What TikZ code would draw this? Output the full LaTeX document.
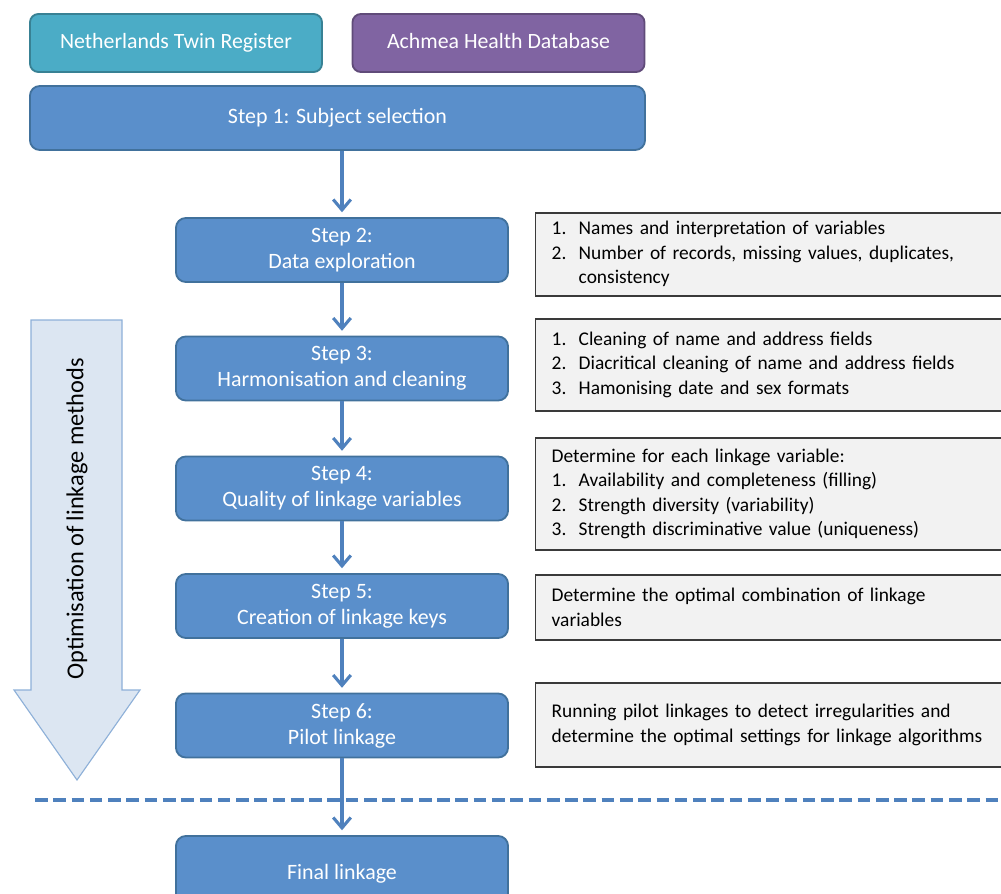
\documentclass[tikz,border=0pt]{standalone}
\usepackage{fontspec}
\setmainfont{Carlito}
\definecolor{NtrTeal}{HTML}{4BACC6}
\definecolor{AhdPurple}{HTML}{8064A2}
\definecolor{StepBlue}{HTML}{5A8FCB}
\definecolor{StepEdge}{HTML}{41719C}
\definecolor{LinkBlue}{HTML}{4F81BD}
\definecolor{NoteGray}{HTML}{F2F2F2}
\definecolor{NoteEdge}{HTML}{3A3A3A}
\definecolor{OptFill}{HTML}{DCE6F2}
\definecolor{OptEdge}{HTML}{8EB0D8}
\usetikzlibrary{arrows.meta, positioning}

\begin{document}
\begin{tikzpicture}[x=0.025cm, y=-0.025cm, >={Straight Barb[length=2.6mm, width=4.4mm]},
    srcbox/.style={draw=#1!75!black, fill=#1, rounded corners=6pt, line width=1.3pt, text=white,
                   minimum width=7.3cm, minimum height=1.45cm, text depth=0.5ex,
                   font=\fontsize{15.5}{18}\selectfont},
    stepbox/.style={draw=StepEdge, fill=StepBlue, rounded corners=7pt, line width=1.3pt, text=white,
                    minimum width=8.3cm, minimum height=1.6cm, align=center,
                    font=\fontsize{15.6}{18.5}\selectfont},
    notebox/.style={draw=NoteEdge, fill=NoteGray, line width=1pt, anchor=west,
                    minimum width=12cm, text width=11.2cm, inner xsep=0.4cm, align=left,
                    font=\fontsize{13.8}{17.4}\selectfont},
    link/.style={->, LinkBlue, line width=2.2pt, shorten >=0.12cm}]
  \useasboundingbox (0,0) rectangle (1001,894);
  \clip (0,0) rectangle (1001,894);

  \draw[OptEdge, fill=OptFill, line width=0.8pt] (31,320) -- (122,320) -- (122,690) -- (140,690)
    -- (77,780) -- (14,690) -- (31,690) -- cycle;
  \node[rotate=90, font=\fontsize{17.3}{20}\selectfont] (opt) at (77,519) {Optimisation of linkage methods};

  \node[srcbox=NtrTeal] (ntr) at (176,43) {Netherlands Twin Register};
  \node[srcbox=AhdPurple] (ahd) at (498.5,43) {Achmea Health Database};
  \node[stepbox, minimum width=15.375cm] (s1) at (337.5,118) {Step 1: Subject selection};
  \node[stepbox] (s2) at (342,250) {Step 2:\\Data exploration};
  \node[stepbox] (s3) at (342,368.5) {Step 3:\\Harmonisation and cleaning};
  \node[stepbox] (s4) at (342,488.5) {Step 4:\\Quality of linkage variables};
  \node[stepbox] (s5) at (342,606) {Step 5:\\Creation of linkage keys};
  \node[stepbox] (s6) at (342,725.5) {Step 6:\\Pilot linkage};
  \node[stepbox, minimum height=1.9cm] (fin) at (342,874) {Final linkage};

  \node[notebox, minimum height=1.825cm] (n2) at (535,254.5) {%
    \begin{tabular}{@{}p{0.675cm}@{}l@{}}
      1. & Names and interpretation of variables\\
      2. & Number of records, missing values, duplicates,\\
         & consistency
    \end{tabular}};
  \node[notebox, minimum height=2.3cm] (n3) at (535,365) {%
    \begin{tabular}{@{}p{0.675cm}@{}l@{}}
      1. & Cleaning of name and address fields\\
      2. & Diacritical cleaning of name and address fields\\
      3. & Hamonising date and sex formats
    \end{tabular}};
  \node[notebox, minimum height=2.8cm] (n4) at (535,494) {%
    \begin{tabular}{@{}p{0.675cm}@{}l@{}}
      \multicolumn{2}{@{}l@{}}{Determine for each linkage variable:}\\
      1. & Availability and completeness (filling)\\
      2. & Strength diversity (variability)\\
      3. & Strength discriminative value (uniqueness)
    \end{tabular}};
  \node[notebox, minimum height=1.625cm] (n5) at (535,607.5)
    {Determine the optimal combination of linkage\\variables};
  \node[notebox, minimum height=2.1cm] (n6) at (535,725)
    {Running pilot linkages to detect irregularities and\\determine the optimal settings for linkage algorithms};

  \draw[link] (s1.south -| s2.north) -- (s2);
  \draw[link] (s2) -- (s3);
  \draw[link] (s3) -- (s4);
  \draw[link] (s4) -- (s5);
  \draw[link] (s5) -- (s6);
  \draw[link] (s6) -- (fin);
  \draw[LinkBlue, line width=3pt, dash pattern=on 9pt off 4pt] (35,800) -- (1001,800);
\end{tikzpicture}
\end{document}
